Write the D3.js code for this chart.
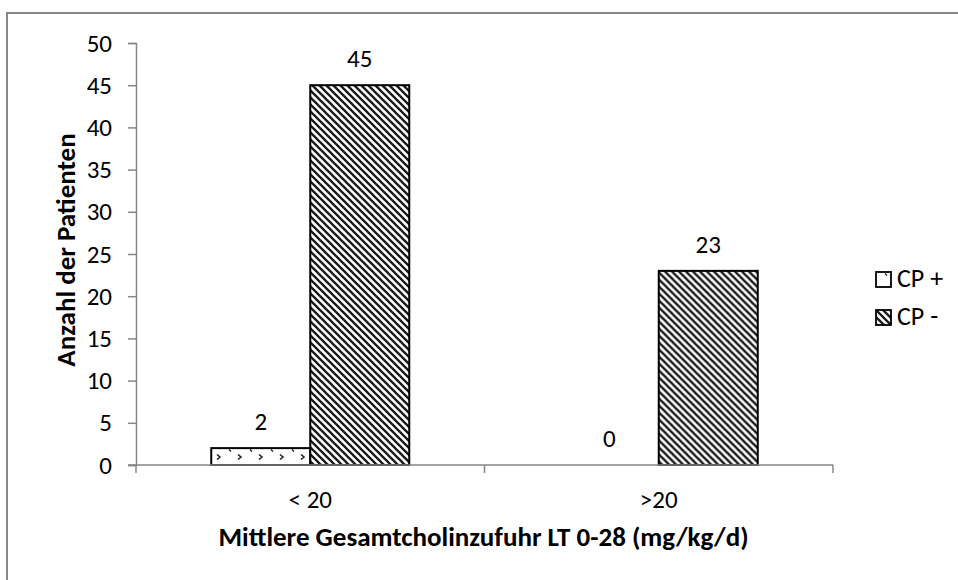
<!DOCTYPE html>
<html>
<head>
<meta charset="utf-8">
<script src="https://cdn.jsdelivr.net/npm/d3@7"></script>
<style>
  html, body { margin: 0; padding: 0; background: #fff; }
  svg { display: block; }
  text { font-family: Carlito, Calibri, Lato, "Open Sans", sans-serif; fill: #000; }
</style>
</head>
<body>
<svg id="chart" width="958" height="580"></svg>
<script>
// Patient counts by mean total choline intake group
const categories = ["< 20", ">20"];
const seriesNames = ["CP +", "CP -"];
const cpPlus = [2, 0];
const cpMinus = [45, 23];
const yTicks = [0, 5, 10, 15, 20, 25, 30, 35, 40, 45, 50];

const FONT = "Carlito, Calibri, Lato, 'Open Sans', sans-serif";
const svg = d3.select("#chart");
const defs = svg.append("defs");

// Diagonal hatch for CP -
const hatch = defs.append("pattern")
  .attr("id", "hatch").attr("patternUnits", "userSpaceOnUse")
  .attr("width", 7).attr("height", 7);
hatch.append("rect").attr("width", 7).attr("height", 7).attr("fill", "#fff");
hatch.append("path")
  .attr("d", "M-1,-1 L8,8 M-8,-1 L1,8 M6,-1 L15,8")
  .attr("stroke", "#1a1a1a").attr("stroke-width", 2.3);

// Sparse chevron marks for CP +
const dots = defs.append("pattern")
  .attr("id", "dots").attr("patternUnits", "userSpaceOnUse")
  .attr("x", 5).attr("y", 448)
  .attr("width", 21).attr("height", 16);
dots.append("rect").attr("width", 21).attr("height", 16).attr("fill", "#fff");
dots.append("path").attr("d", "M4,1.5 L6,3.5").attr("stroke", "#222").attr("stroke-width", 1.4).attr("fill", "none");
dots.append("path").attr("d", "M13,6.5 L16,9 L13,11.5").attr("stroke", "#222").attr("stroke-width", 1.6).attr("fill", "none");

// Outer frame
svg.append("rect").attr("x", 7).attr("y", 13).attr("width", 960).attr("height", 580)
  .attr("fill", "none").attr("stroke", "#868686").attr("stroke-width", 2);

const plot = { left: 136, right: 833, top: 43, bottom: 465 };

const x0 = d3.scaleBand().domain(categories).range([plot.left, plot.right]).paddingInner(0).paddingOuter(0);
const x1 = d3.scaleBand().domain(seriesNames).range([0, x0.bandwidth()]).paddingInner(0).paddingOuter(0.76);
const y = d3.scaleLinear().domain([0, 50]).range([plot.bottom, plot.top]);

const axisColor = "#868686";

// Y axis
const yAxis = svg.append("g").attr("transform", `translate(${plot.left},0)`)
  .call(d3.axisLeft(y).tickValues(yTicks).tickSize(8).tickPadding(16));
yAxis.select(".domain").attr("stroke", axisColor).attr("stroke-width", 1.5);
yAxis.selectAll(".tick line").attr("stroke", axisColor).attr("stroke-width", 1.5);
yAxis.selectAll(".tick text").style("font-size", "25px").style("font-family", FONT).attr("fill", "#000");

// Bars
const rows = categories.map((c, i) => ({ cat: c, vals: [cpPlus[i], cpMinus[i]] }));
const fills = ["url(#dots)", "url(#hatch)"];
const groups = svg.append("g").selectAll("g").data(rows).join("g")
  .attr("transform", d => `translate(${x0(d.cat)},0)`);
groups.selectAll("rect").data(d => d.vals.map((v, j) => ({ v, s: seriesNames[j], j })))
  .join("rect")
  .filter(d => d.v > 0)
  .attr("x", d => x1(d.s)).attr("width", x1.bandwidth())
  .attr("y", d => y(d.v)).attr("height", d => y(0) - y(d.v))
  .attr("fill", d => fills[d.j]).attr("stroke", "#000").attr("stroke-width", 2);
groups.selectAll("text.val").data(d => d.vals.map((v, j) => ({ v, s: seriesNames[j] })))
  .join("text").attr("class", "val")
  .attr("x", d => x1(d.s) + x1.bandwidth() / 2)
  .attr("y", d => y(d.v) - 18)
  .attr("text-anchor", "middle").style("font-size", "25px")
  .text(d => d.v);

// X axis
const xAxis = svg.append("g").attr("transform", `translate(0,${plot.bottom})`)
  .call(d3.axisBottom(x0).tickSize(0));
xAxis.select(".domain").remove();
xAxis.selectAll(".tick text").attr("y", 43).attr("dy", null)
  .style("font-size", "25px").style("font-family", FONT).attr("fill", "#000");
svg.append("line").attr("x1", plot.left - 8).attr("x2", plot.right)
  .attr("y1", plot.bottom).attr("y2", plot.bottom)
  .attr("stroke", axisColor).attr("stroke-width", 1.5);
const bounds = [plot.left, ...categories.map(c => x0(c) + x0.bandwidth())];
svg.append("g").selectAll("line").data(bounds).join("line")
  .attr("x1", d => d).attr("x2", d => d)
  .attr("y1", plot.bottom).attr("y2", plot.bottom + 8)
  .attr("stroke", axisColor).attr("stroke-width", 1.5);

// Axis titles
svg.append("text").attr("x", (plot.left + plot.right) / 2 - 1).attr("y", 546)
  .attr("text-anchor", "middle").style("font-size", "27px").attr("font-weight", "bold")
  .text("Mittlere Gesamtcholinzufuhr LT 0-28 (mg/kg/d)");
svg.append("text")
  .attr("transform", `translate(75,250) rotate(-90)`)
  .attr("text-anchor", "middle").style("font-size", "27px").attr("font-weight", "bold")
  .text("Anzahl der Patienten");

// Legend
const legend = svg.append("g").selectAll("g").data(seriesNames).join("g")
  .attr("transform", (d, i) => `translate(876,${272 + i * 38})`);
legend.append("rect").attr("width", 15).attr("height", 15)
  .attr("fill", (d, i) => fills[i]).attr("stroke", "#000").attr("stroke-width", 1.8);
legend.append("text").attr("x", 21).attr("y", 15)
  .style("font-size", "26px").text(d => d);
</script>
</body>
</html>
